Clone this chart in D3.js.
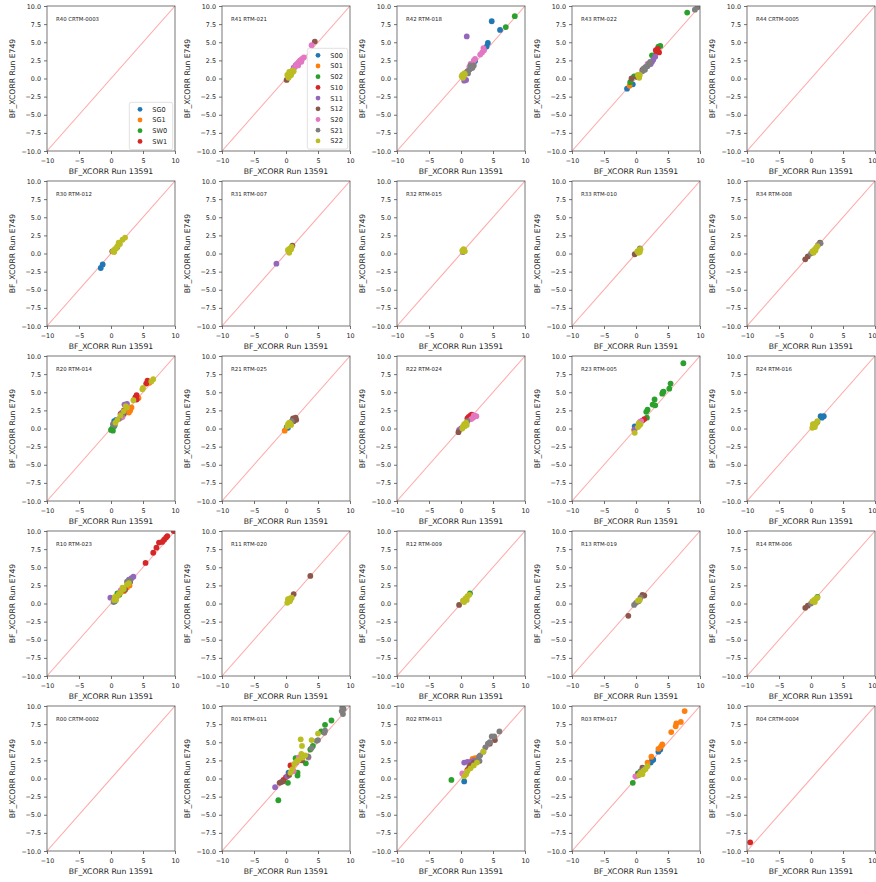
<!DOCTYPE html>
<html>
<head>
<meta charset="utf-8">
<script src="https://cdn.jsdelivr.net/npm/d3@7"></script>
<style>
  body { margin: 0; background: #fff; }
  text { font-family: "DejaVu Sans", sans-serif; }
</style>
</head>
<body>
<svg id="chart" width="876" height="882"></svg>
<script>
// series + colours (matplotlib tab10)
const cornerSeries = ["SG0", "SG1", "SW0", "SW1"];
const rtmSeries = ["S00", "S01", "S02", "S10", "S11", "S12", "S20", "S21", "S22"];
const palette = ["#1f77b4", "#ff7f0e", "#2ca02c", "#d62728", "#9467bd", "#8c564b", "#e377c2", "#7f7f7f", "#bcbd22"];

const xTicks = [-10, -5, 0, 5, 10];
const yTicks = [-10, -7.5, -5, -2.5, 0, 2.5, 5, 7.5, 10];

// panel titles, top row first
const panelTitles = [
    ["R40 CRTM-0003", "R41 RTM-021", "R42 RTM-018", "R43 RTM-022", "R44 CRTM-0005"],
    ["R30 RTM-012", "R31 RTM-007", "R32 RTM-015", "R33 RTM-010", "R34 RTM-008"],
    ["R20 RTM-014", "R21 RTM-025", "R22 RTM-024", "R23 RTM-005", "R24 RTM-016"],
    ["R10 RTM-023", "R11 RTM-020", "R12 RTM-009", "R13 RTM-019", "R14 RTM-006"],
    ["R00 CRTM-0002", "R01 RTM-011", "R02 RTM-013", "R03 RTM-017", "R04 CRTM-0004"]
];

// points: [series, run 13591, run E749]
const R40 = [];
const R41 = [
    ["S00", 0.5, 0.5], ["S00", 0.7, 0.6], ["S10", 0.3, 0.3],
    ["S11", 1.2, 1.5], ["S11", 1.5, 1.8], ["S11", 1.8, 2.0], ["S11", 2.0, 2.2],
    ["S12", 4.5, 5.1], ["S12", 0.1, -0.2], ["S12", 0.6, 0.4],
    ["S20", 4.0, 4.6], ["S20", 2.8, 2.9], ["S20", 2.5, 2.7], ["S20", 2.2, 2.5], ["S20", 2.0, 2.3],
    ["S20", 1.7, 2.0], ["S20", 1.4, 1.6], ["S20", 1.1, 1.2], ["S20", 2.4, 2.3], ["S20", 1.9, 1.8],
    ["S21", 0.8, 0.8], ["S21", 1.0, 0.9],
    ["S22", 0.3, 0.3], ["S22", 0.5, 0.6], ["S22", 0.7, 0.8], ["S22", 0.9, 0.9], ["S22", 0.4, 0.1],
    ["S22", 0.6, 0.4], ["S22", 1.0, 1.1], ["S22", 0.2, 0.5], ["S22", 0.8, 0.5], ["S22", 1.2, 1.0],
    ["S22", 0.5, 0.9]
];
const R42 = [
    ["S00", 4.8, 7.9], ["S00", 6.1, 6.7], ["S00", 4.2, 4.9], ["S00", 4.0, 4.4], ["S00", 2.2, 2.4], ["S00", 1.8, 1.9],
    ["S02", 8.4, 8.6], ["S02", 7.0, 7.1],
    ["S11", 0.9, 5.8], ["S11", 0.5, -0.3], ["S11", 0.8, -0.2],
    ["S20", 3.5, 4.2], ["S20", 3.3, 3.6], ["S20", 3.0, 3.3], ["S20", 2.2, 2.7], ["S20", 2.0, 2.5],
    ["S20", 1.5, 2.0], ["S20", 1.3, 1.6], ["S20", 3.6, 3.9],
    ["S21", 1.0, 1.0], ["S21", 1.3, 1.2], ["S21", 1.6, 1.4], ["S21", 2.0, 1.8], ["S21", 1.5, 1.8], ["S21", 0.8, 0.8],
    ["S21", 1.8, 1.5], ["S21", 1.1, 0.7],
    ["S22", 0.2, 0.5], ["S22", 0.4, 0.3], ["S22", 0.6, 0.6], ["S22", 0.3, 0.1], ["S22", 0.1, 0.3], ["S22", 0.5, 0.7]
];
const R43 = [
    ["S00", -1.4, -1.4], ["S00", -0.5, -0.8], ["S01", -1.0, -1.0],
    ["S02", 8.0, 9.1], ["S02", 3.8, 4.5], ["S02", 3.5, 4.4], ["S02", 2.5, 3.2], ["S02", -0.9, -0.5],
    ["S02", -0.3, 0.3], ["S02", 0.2, 0.4],
    ["S10", 3.1, 3.9], ["S10", 3.4, 4.1], ["S10", 3.6, 3.6], ["S10", 3.2, 3.7], ["S10", 1.0, 1.2],
    ["S11", 3.0, 3.0], ["S11", 2.7, 2.6], ["S11", 2.5, 2.3], ["S11", 2.3, 2.0],
    ["S12", -0.7, 0.0], ["S12", 0.2, 0.2],
    ["S20", 1.8, 2.0],
    ["S21", 9.2, 9.5], ["S21", 9.6, 9.8], ["S21", 2.0, 2.0], ["S21", 1.5, 1.6], ["S21", 1.2, 1.4],
    ["S21", 1.8, 1.7], ["S21", 2.2, 2.3], ["S21", 1.0, 1.0], ["S21", 1.4, 1.2],
    ["S22", 0.4, 0.3], ["S22", 0.6, 0.5], ["S22", 0.5, 0.1], ["S22", 0.3, 0.5]
];
const R44 = [];

const R30 = [
    ["S00", -1.6, -2.0], ["S00", -1.3, -1.5], ["S12", 0.2, 0.3],
    ["S21", 0.5, 0.4], ["S21", 1.0, 0.9],
    ["S22", 1.8, 1.9], ["S22", 2.2, 2.2], ["S22", 1.0, 1.0], ["S22", 0.6, 0.6], ["S22", 0.3, 0.3],
    ["S22", 1.4, 1.3], ["S22", 0.8, 0.7], ["S22", 1.2, 1.5], ["S22", 0.5, 0.2]
];
const R31 = [
    ["S11", -1.5, -1.4], ["S12", 1.0, 1.1], ["S21", 0.6, 0.5],
    ["S22", 0.4, 0.3], ["S22", 0.6, 0.7], ["S22", 0.8, 0.6], ["S22", 0.3, 0.5], ["S22", 0.9, 0.9],
    ["S22", 0.5, 0.1]
];
const R32 = [
    ["S21", 0.5, 0.4], ["S21", 0.3, 0.2],
    ["S22", 0.3, 0.3], ["S22", 0.5, 0.5], ["S22", 0.6, 0.3], ["S22", 0.4, 0.6], ["S22", 0.2, 0.4]
];
const R33 = [
    ["S12", -0.2, -0.1], ["S21", 0.6, 0.7], ["S21", 0.3, 0.2],
    ["S22", 0.2, 0.3], ["S22", 0.5, 0.5], ["S22", 0.7, 0.6], ["S22", 0.4, 0.1], ["S22", 0.6, 0.2]
];
const R34 = [
    ["S12", -0.9, -0.8], ["S12", 1.4, 1.5], ["S12", -0.5, -0.4],
    ["S21", 1.5, 1.4], ["S21", 1.1, 1.2], ["S21", 0.0, 0.0],
    ["S22", 0.2, 0.3], ["S22", 0.5, 0.5], ["S22", 0.8, 0.8], ["S22", 0.4, 0.1], ["S22", 1.0, 1.0],
    ["S22", 0.7, 0.4]
];

const R20 = [
    ["S00", 0.5, 1.0], ["S00", 0.8, 1.2],
    ["S01", 4.3, 4.2], ["S01", 3.0, 2.5], ["S01", 3.2, 2.9], ["S01", 2.8, 2.2], ["S01", 6.0, 6.3],
    ["S02", 0.0, -0.2], ["S02", 0.3, -0.3], ["S02", 0.2, 0.0], ["S02", 0.5, 0.3],
    ["S10", 5.7, 6.6], ["S10", 5.5, 6.2], ["S10", 4.0, 4.6], ["S10", 3.8, 4.3], ["S10", 4.0, 4.0],
    ["S10", 1.5, 2.0], ["S10", 2.0, 2.5],
    ["S11", 2.1, 3.3], ["S11", 2.5, 3.4], ["S11", 1.7, 2.2],
    ["S12", 1.5, 1.5], ["S12", 2.0, 2.0],
    ["S20", 1.8, 1.6],
    ["S21", 0.3, 0.6], ["S21", 0.6, 0.5], ["S21", 1.2, 1.3], ["S21", 1.7, 1.9],
    ["S22", 6.6, 6.8], ["S22", 6.3, 6.5], ["S22", 5.0, 5.6], ["S22", 4.9, 5.4], ["S22", 3.5, 3.9],
    ["S22", 2.5, 2.9], ["S22", 2.0, 2.4], ["S22", 1.5, 1.8], ["S22", 1.0, 1.2], ["S22", 0.7, 0.8],
    ["S22", 2.3, 3.1]
];
const R21 = [
    ["S00", 0.3, 0.1], ["S00", 0.1, 0.2], ["S01", -0.2, -0.3],
    ["S12", 1.5, 1.5], ["S12", 1.3, 1.3], ["S12", 1.1, 1.4], ["S12", 1.6, 1.2], ["S12", 1.2, 1.0],
    ["S21", 0.9, 1.0],
    ["S22", 0.4, 0.4], ["S22", 0.6, 0.7], ["S22", 0.2, 0.3], ["S22", 0.8, 0.5], ["S22", 0.5, 0.8],
    ["S22", 0.3, 0.6]
];
const R22 = [
    ["S10", 1.5, 1.8], ["S10", 1.7, 1.9], ["S10", 1.2, 1.6], ["S10", 1.0, 1.4],
    ["S11", -0.3, -0.2], ["S11", 0.0, 0.0], ["S12", -0.4, -0.5],
    ["S20", 2.2, 1.7], ["S20", 1.9, 1.5], ["S20", 2.0, 1.8], ["S20", 1.6, 1.3], ["S20", 2.4, 1.7],
    ["S21", 1.0, 1.0],
    ["S22", 0.3, 0.3], ["S22", 0.5, 0.6], ["S22", 0.6, 0.3], ["S22", 0.8, 0.8], ["S22", 0.2, 0.0],
    ["S22", 0.9, 0.5]
];
const R23 = [
    ["S00", -0.2, 0.3], ["S01", -0.3, -0.2],
    ["S02", 7.4, 9.0], ["S02", 5.4, 6.2], ["S02", 5.2, 5.5], ["S02", 4.2, 5.0], ["S02", 4.1, 4.8],
    ["S02", 4.3, 5.1], ["S02", 2.9, 4.0], ["S02", 2.6, 3.3], ["S02", 3.0, 3.2], ["S02", 1.8, 2.6],
    ["S02", 1.6, 2.3], ["S02", 1.7, 1.5],
    ["S10", 1.3, 1.3], ["S10", 1.0, 1.1], ["S11", -0.2, -0.1],
    ["S20", 0.8, 1.0], ["S20", 0.6, 0.9],
    ["S22", -0.2, -0.6], ["S22", 0.5, 0.4], ["S22", 0.7, 0.6], ["S22", 0.3, 0.2], ["S22", 0.4, 0.7]
];
const R24 = [
    ["S00", 1.5, 1.7], ["S00", 2.0, 1.7], ["S00", 1.7, 1.5],
    ["S21", 0.6, 0.5], ["S21", 1.0, 0.9],
    ["S22", 0.3, 0.3], ["S22", 0.5, 0.6], ["S22", 0.8, 0.7], ["S22", 0.2, 0.1], ["S22", 1.0, 1.0],
    ["S22", 0.6, 0.2], ["S22", 0.3, 0.6]
];

const R10 = [
    ["S00", 0.6, 0.3], ["S01", 2.5, 2.2], ["S01", 2.9, 2.5], ["S01", 2.0, 1.7],
    ["S02", 1.0, 1.4], ["S02", 1.3, 1.2],
    ["S10", 9.8, 10.0], ["S10", 8.8, 9.3], ["S10", 8.6, 9.1], ["S10", 8.3, 8.8], ["S10", 8.0, 8.5],
    ["S10", 7.5, 8.4], ["S10", 7.1, 7.7], ["S10", 6.6, 7.0], ["S10", 5.4, 5.6],
    ["S11", -0.1, 0.8], ["S11", 3.5, 3.7], ["S11", 3.2, 3.5], ["S11", 2.8, 3.3],
    ["S12", 2.2, 1.9], ["S12", 3.0, 3.0],
    ["S20", 1.5, 1.8],
    ["S21", 2.5, 3.0], ["S21", 3.0, 3.2], ["S21", 0.4, 0.2],
    ["S22", 0.5, 0.5], ["S22", 1.0, 1.0], ["S22", 1.5, 1.5], ["S22", 2.0, 2.0], ["S22", 2.5, 2.6],
    ["S22", 2.8, 2.8], ["S22", 0.8, 0.5], ["S22", 1.2, 1.3], ["S22", 1.8, 2.2], ["S22", 0.6, 0.9]
];
const R11 = [
    ["S12", 3.8, 3.8], ["S12", 1.2, 1.3], ["S21", 0.7, 0.6],
    ["S22", 0.2, 0.1], ["S22", 0.4, 0.4], ["S22", 0.6, 0.7], ["S22", 0.9, 0.8], ["S22", 0.3, 0.6],
    ["S22", 0.6, 0.3]
];
const R12 = [
    ["S02", 1.4, 1.4], ["S12", -0.3, -0.2], ["S21", 0.6, 0.5],
    ["S22", 0.3, 0.4], ["S22", 0.7, 0.7], ["S22", 1.0, 1.0], ["S22", 1.3, 1.2], ["S22", 0.5, 0.2],
    ["S22", 0.9, 0.5]
];
const R13 = [
    ["S12", -1.2, -1.7], ["S12", 1.3, 1.1], ["S12", 1.0, 1.2],
    ["S21", 0.0, 0.1], ["S21", 0.4, 0.3], ["S21", 0.7, 0.8], ["S21", -0.3, -0.2],
    ["S22", 0.3, 0.4], ["S22", 0.6, 0.5]
];
const R14 = [
    ["S02", 1.0, 0.9], ["S12", -0.9, -0.6], ["S12", -0.5, -0.3],
    ["S21", 0.0, 0.0], ["S21", 0.4, 0.3],
    ["S22", 0.2, 0.3], ["S22", 0.5, 0.5], ["S22", 0.8, 0.7], ["S22", 1.0, 0.8], ["S22", 0.6, 0.2]
];

const R00 = [];
const R01 = [
    ["S00", 0.4, 0.8], ["S01", 1.0, 1.6],
    ["S02", 7.1, 8.0], ["S02", 6.1, 7.4], ["S02", 5.5, 6.5], ["S02", 3.8, 4.0], ["S02", 3.1, 2.1],
    ["S02", 1.8, 0.8], ["S02", 1.8, 0.4], ["S02", 0.3, -0.6], ["S02", -1.2, -3.0], ["S02", 1.5, 2.8],
    ["S02", 4.2, 4.5],
    ["S10", 0.7, 1.8], ["S10", -0.4, -0.2], ["S10", 0.0, 0.2],
    ["S11", -1.7, -1.2], ["S11", -0.8, -0.5], ["S11", 0.2, 0.3],
    ["S12", -1.0, -0.6], ["S12", -0.5, -0.4], ["S12", 0.5, 0.5], ["S12", 2.5, 2.5],
    ["S20", 3.5, 2.9], ["S20", 2.0, 2.9], ["S20", 1.6, 2.2], ["S20", 1.2, 1.0],
    ["S21", 8.8, 9.8], ["S21", 9.0, 9.6], ["S21", 8.7, 9.3], ["S21", 8.9, 8.9], ["S21", 6.1, 6.6],
    ["S21", 6.0, 6.3], ["S21", 5.0, 5.3], ["S21", 4.8, 5.2], ["S21", 4.0, 4.2], ["S21", 3.5, 3.0],
    ["S22", 2.3, 5.4], ["S22", 4.0, 5.3], ["S22", 2.5, 4.5], ["S22", 5.0, 6.2], ["S22", 2.4, 3.4],
    ["S22", 1.3, 2.0], ["S22", 1.7, 2.4], ["S22", 2.0, 2.6], ["S22", 2.6, 2.9], ["S22", 1.0, 1.3],
    ["S22", 0.7, 0.8], ["S22", 3.0, 3.2]
];
const R02 = [
    ["S00", 0.5, -0.4], ["S01", 1.8, 2.7], ["S01", 2.2, 2.8], ["S02", -1.5, -0.2],
    ["S10", 1.0, 1.2],
    ["S11", 0.5, 2.2], ["S11", 1.0, 2.3], ["S11", 1.5, 2.3], ["S11", 2.0, 2.5],
    ["S12", 5.3, 5.3], ["S12", 4.5, 4.8], ["S12", 1.3, 1.6], ["S12", 1.5, 1.8], ["S12", 2.0, 2.2],
    ["S20", 0.2, 0.7], ["S20", 0.4, 0.6],
    ["S21", 6.0, 6.5], ["S21", 5.2, 5.8], ["S21", 4.8, 5.8], ["S21", 4.5, 5.0], ["S21", 4.2, 4.8],
    ["S21", 3.8, 4.3], ["S21", 3.5, 3.7], ["S21", 3.0, 3.2], ["S21", 2.8, 3.0], ["S21", 2.9, 2.4],
    ["S21", 2.5, 2.5],
    ["S22", 0.5, 0.3], ["S22", 1.0, 1.0], ["S22", 1.5, 1.4], ["S22", 2.0, 1.8], ["S22", 2.5, 2.2],
    ["S22", 3.5, 3.7], ["S22", 0.8, 0.6]
];
const R03 = [
    ["S00", 3.8, 4.0], ["S00", 3.5, 3.7], ["S00", 2.5, 2.5], ["S00", 2.3, 2.2], ["S00", 2.7, 2.6],
    ["S01", 7.6, 9.3], ["S01", 7.0, 7.8], ["S01", 6.3, 7.6], ["S01", 6.2, 7.2], ["S01", 5.5, 6.4],
    ["S01", 4.1, 4.7], ["S01", 3.9, 4.4], ["S01", 3.5, 4.1], ["S01", 2.4, 3.0], ["S01", 1.8, 2.2],
    ["S02", -0.5, -0.6], ["S02", 0.3, 0.7],
    ["S11", 0.2, 0.4], ["S12", 0.3, 0.5], ["S12", 1.0, 1.5], ["S20", -0.1, 0.3],
    ["S21", 0.7, 1.0], ["S21", 1.3, 1.4],
    ["S22", 0.5, 0.5], ["S22", 0.8, 0.8], ["S22", 1.2, 1.1], ["S22", 1.5, 1.3], ["S22", 1.0, 0.6],
    ["S22", 1.8, 1.7]
];
const R04 = [["SW1", -9.5, -8.8]];

const panelPoints = [
    [R40, R41, R42, R43, R44],
    [R30, R31, R32, R33, R34],
    [R20, R21, R22, R23, R24],
    [R10, R11, R12, R13, R14],
    [R00, R01, R02, R03, R04]
];

const svg = d3.select("#chart");
const plotW = 128, plotH = 145;
const colStep = 175, rowStep = 175;
const left0 = 47, top0 = 6;

const x = d3.scaleLinear().domain([-10, 10]).range([0, plotW]);
const y = d3.scaleLinear().domain([-10, 10]).range([plotH, 0]);

function seriesColor(name) {
    let i = rtmSeries.indexOf(name);
    if (i < 0) i = cornerSeries.indexOf(name);
    return palette[i];
}
function seriesOrder(name) {
    const i = rtmSeries.indexOf(name);
    return i < 0 ? cornerSeries.indexOf(name) : i;
}
const fmtY = d => d3.format(".1f")(d).replace("-", "\u2212");
const fmtX = d => String(d).replace("-", "\u2212");

panelTitles.forEach((row, r) => {
    row.forEach((title, c) => {
        const g = svg.append("g")
            .attr("transform", `translate(${left0 + c * colStep},${top0 + r * rowStep})`);

        const clipId = `clip-${r}-${c}`;
        g.append("clipPath").attr("id", clipId)
            .append("rect").attr("width", plotW).attr("height", plotH);

        // diagonal reference
        g.append("line")
            .attr("x1", x(-10)).attr("y1", y(-10))
            .attr("x2", x(10)).attr("y2", y(10))
            .attr("stroke", "#ff0000").attr("stroke-opacity", 0.35)
            .attr("stroke-width", 1.1);

        const pts = panelPoints[r][c].slice()
            .sort((a, b) => seriesOrder(a[0]) - seriesOrder(b[0]));
        g.append("g").attr("clip-path", `url(#${clipId})`)
            .selectAll("circle").data(pts).enter()
            .append("circle")
            .attr("cx", d => x(d[1]))
            .attr("cy", d => y(d[2]))
            .attr("r", 2.9)
            .attr("fill", d => seriesColor(d[0]));

        // axes
        const xa = g.append("g").attr("transform", `translate(0,${plotH})`)
            .call(d3.axisBottom(x).tickValues(xTicks).tickFormat(fmtX).tickSize(3).tickSizeOuter(0));
        const ya = g.append("g")
            .call(d3.axisLeft(y).tickValues(yTicks).tickFormat(fmtY).tickSize(3).tickSizeOuter(0));
        [xa, ya].forEach(a => {
            a.select(".domain").remove();
            a.selectAll("line").attr("stroke", "#333").attr("stroke-width", 0.7);
            a.selectAll("text").attr("font-size", 6.4).attr("fill", "#222")
                .style("font-family", "DejaVu Sans");
        });
        xa.selectAll("text").attr("dy", "0.95em");
        // keep the last column's right-hand "10" inside the page
        if (c === row.length - 1) {
            xa.selectAll("text").filter(d => d === 10)
                .attr("text-anchor", "end").attr("x", 1);
        }

        g.append("rect").attr("width", plotW).attr("height", plotH)
            .attr("fill", "none").attr("stroke", "#555").attr("stroke-width", 0.8);

        g.append("text").attr("x", 9).attr("y", 15)
            .attr("font-size", 5.4).attr("fill", "#222").text(title);

        g.append("text").attr("x", plotW / 2).attr("y", plotH + 22.5)
            .attr("text-anchor", "middle").attr("font-size", 7.7).attr("fill", "#222")
            .text("BF_XCORR Run 13591");
        g.append("text")
            .attr("transform", `translate(-32,${plotH / 2}) rotate(-90)`)
            .attr("text-anchor", "middle").attr("font-size", 7.7).attr("fill", "#222")
            .text("BF_XCORR Run E749");
    });
});

// legends: corner series in first panel, RTM series in second
function drawLegend(names, px, py, boxX, boxY, boxW) {
    const g = svg.append("g").attr("transform", `translate(${px},${py})`);
    const rowH = 10.7;
    g.append("rect")
        .attr("x", boxX).attr("y", boxY)
        .attr("width", boxW).attr("height", names.length * rowH + 4.5)
        .attr("rx", 2).attr("fill", "#fff").attr("fill-opacity", 0.8)
        .attr("stroke", "#ccc").attr("stroke-width", 0.6);
    names.forEach((n, i) => {
        const cy = boxY + 7 + i * rowH;
        g.append("circle").attr("cx", boxX + 10.7).attr("cy", cy).attr("r", 2.4)
            .attr("fill", seriesColor(n));
        g.append("text").attr("x", boxX + 23).attr("y", cy + 2.4)
            .attr("font-size", 6.6).attr("fill", "#222").text(n);
    });
}
drawLegend(cornerSeries, left0, top0, 82.3, 96.3, 43.4);
drawLegend(rtmSeries, left0 + colStep, top0, 85.3, 42.3, 40.4);
</script>
</body>
</html>
